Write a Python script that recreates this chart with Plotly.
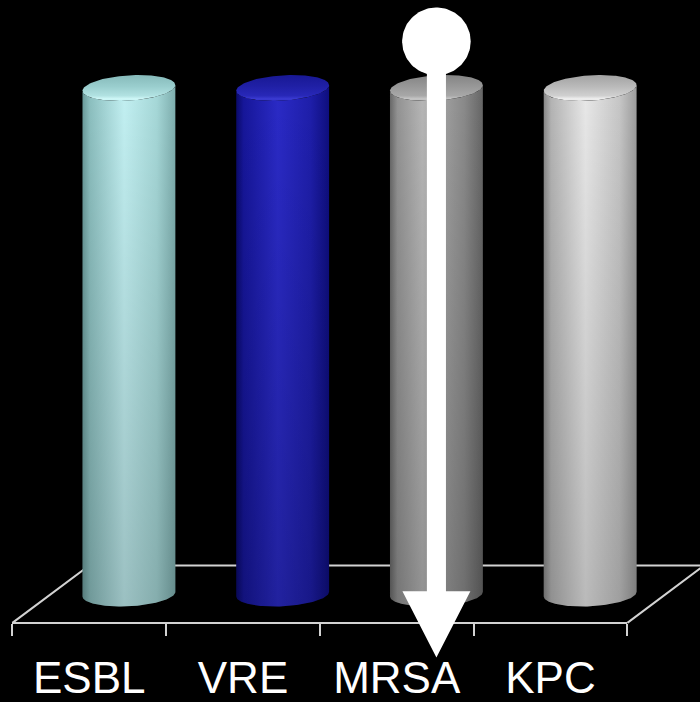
import numpy as np
import plotly.graph_objects as go

# ---------------- data ----------------
categories = ["ESBL", "VRE", "MRSA", "KPC"]
values = [100, 100, 100, 100]
highlight = "MRSA"

# ---------------- styles ----------------
body_scales = [
    [[0, "#6a9a9a"], [0.08, "#8cbfbf"], [0.45, "#c2f0f2"], [0.8, "#a6d8d8"], [1, "#7eaeae"]],
    [[0, "#0a0a6a"], [0.08, "#16169a"], [0.45, "#2a2ac6"], [0.8, "#1e1eaa"], [1, "#0e0e7e"]],
    [[0, "#686868"], [0.08, "#939393"], [0.35, "#b6b6b6"], [0.8, "#8a8a8a"], [1, "#666666"]],
    [[0, "#888888"], [0.08, "#b4b4b4"], [0.45, "#e8e8e8"], [0.82, "#c6c6c6"], [1, "#9c9c9c"]],
]
top_scales = [
    [[0, "#b4e6e8"], [0.07, "#d2fafa"], [0.2, "#b2e2e2"], [0.55, "#9acece"], [1, "#86baba"]],
    [[0, "#2828bc"], [0.07, "#3c3cd4"], [0.2, "#2828b8"], [0.55, "#2020a6"], [1, "#181894"]],
    [[0, "#acacac"], [0.07, "#c8c8c8"], [0.2, "#a8a8a8"], [0.55, "#989898"], [1, "#848484"]],
    [[0, "#d6d6d6"], [0.07, "#f2f2f2"], [0.2, "#d0d0d0"], [0.55, "#bababa"], [1, "#a2a2a2"]],
]
FLOOR_COLOR = "#d2d2d2"

X2_RANGE = [-0.5805, 3.9724]
Y_RANGE = [-19.73, 117.38]
FLOOR_FRONT, FLOOR_BACK, DEPTH_DX = -5.67, 5.67, 0.5
CYL_DX = 0.258          # cylinders sit at mid depth
CYL_R = 0.302           # radius in x units
TOP_B, TOP_T = 2.5, 0.55
BOT_B, BOT_T = 2.4, 0.45

n = len(categories)
fig = go.Figure()

# dummy trace giving the category axis (front edge of floor + labels)
fig.add_trace(go.Scatter(x=categories, y=values, mode="markers",
                         marker=dict(opacity=0), hoverinfo="skip",
                         xaxis="x", yaxis="y"))

# floor: left side, back edge, right side
fig.add_trace(go.Scatter(
    x=[-0.5, -0.5 + DEPTH_DX, n - 0.5 + DEPTH_DX, n - 0.5],
    y=[FLOOR_FRONT, FLOOR_BACK, FLOOR_BACK, FLOOR_FRONT],
    mode="lines", line=dict(color=FLOOR_COLOR, width=2),
    hoverinfo="skip", xaxis="x2", yaxis="y"))


def ell(cx, cy, b, t, th):
    return cx + CYL_R * np.cos(th), cy + b * np.sin(th) + t * np.cos(th)


transparent = "rgba(0,0,0,0)"
for i, (cat, v) in enumerate(zip(categories, values)):
    cx = i + CYL_DX
    th_b = np.linspace(np.pi, 2 * np.pi, 80)
    bx, by = ell(cx, 0, BOT_B, BOT_T, th_b)
    th_t = np.linspace(2 * np.pi, np.pi, 80)
    tx, ty = ell(cx, v, TOP_B, TOP_T, th_t)
    px = np.concatenate([bx, tx])
    py = np.concatenate([by, ty])
    fig.add_trace(go.Scatter(
        x=px, y=py, mode="lines", fill="toself",
        line=dict(width=0, color=transparent),
        fillgradient=dict(type="horizontal", colorscale=body_scales[i]),
        hoverinfo="skip", xaxis="x2", yaxis="y"))
    # subtle darkening towards the base
    fig.add_trace(go.Scatter(
        x=px, y=py, mode="lines", fill="toself",
        line=dict(width=0, color=transparent),
        fillgradient=dict(type="vertical",
                          colorscale=[[0, "rgba(0,0,0,0.2)"], [1, "rgba(0,0,0,0)"]]),
        hoverinfo="skip", xaxis="x2", yaxis="y"))
    # top face
    th = np.linspace(0, 2 * np.pi, 160)
    ex, ey = ell(cx, v, TOP_B, TOP_T, th)
    fig.add_trace(go.Scatter(
        x=ex, y=ey, mode="lines", fill="toself",
        line=dict(width=0, color=transparent),
        fillgradient=dict(type="vertical", colorscale=top_scales[i]),
        hoverinfo="skip", xaxis="x2", yaxis="y"))

# arrow pointing at the highlighted category
k = categories.index(highlight)
ax = k + CYL_DX
ARROW_TOP, ARROW_BASE, ARROW_TIP = 109.2, 0.59, -12.5
SHAFT_W, HEAD_W = 0.062, 0.221
fig.add_trace(go.Scatter(
    x=[ax - SHAFT_W, ax - SHAFT_W, ax - HEAD_W, ax, ax + HEAD_W, ax + SHAFT_W, ax + SHAFT_W],
    y=[ARROW_TOP, ARROW_BASE, ARROW_BASE, ARROW_TIP, ARROW_BASE, ARROW_BASE, ARROW_TOP],
    mode="lines", fill="toself", fillcolor="white",
    line=dict(width=0, color="white"), hoverinfo="skip", xaxis="x2", yaxis="y"))
th = np.linspace(0, 2 * np.pi, 120)
fig.add_trace(go.Scatter(
    x=ax + 0.223 * np.cos(th), y=ARROW_TOP + 6.7 * np.sin(th),
    mode="lines", fill="toself", fillcolor="white",
    line=dict(width=0, color="white"), hoverinfo="skip", xaxis="x2", yaxis="y"))

span = X2_RANGE[1] - X2_RANGE[0]
dom = [(-0.5 - X2_RANGE[0]) / span, (n - 0.5 - X2_RANGE[0]) / span]
pos = (FLOOR_FRONT - Y_RANGE[0]) / (Y_RANGE[1] - Y_RANGE[0])

fig.update_layout(
    width=700, height=702, margin=dict(l=0, r=0, t=0, b=0),
    paper_bgcolor="black", plot_bgcolor="rgba(0,0,0,0)", showlegend=False,
    xaxis=dict(type="category", categoryorder="array", categoryarray=categories,
               range=[-0.5, n - 0.5], domain=dom, anchor="free", position=pos,
               tickson="boundaries", ticks="outside", ticklen=12, tickwidth=2,
               tickcolor=FLOOR_COLOR, showline=True, linecolor=FLOOR_COLOR, linewidth=2,
               showgrid=False, zeroline=False, layer="below traces",
               ticklabelstandoff=16,
               tickfont=dict(family="Liberation Sans, Arial, sans-serif", size=44, color="white"),
               fixedrange=True),
    xaxis2=dict(range=X2_RANGE, domain=[0, 1], anchor="y", visible=False, fixedrange=True),
    yaxis=dict(range=Y_RANGE, domain=[0, 1], visible=False, fixedrange=True),
)

fig.write_html("out.html", config={"displayModeBar": False},
               post_script="document.body.style.margin='0';document.body.style.background='black';")
